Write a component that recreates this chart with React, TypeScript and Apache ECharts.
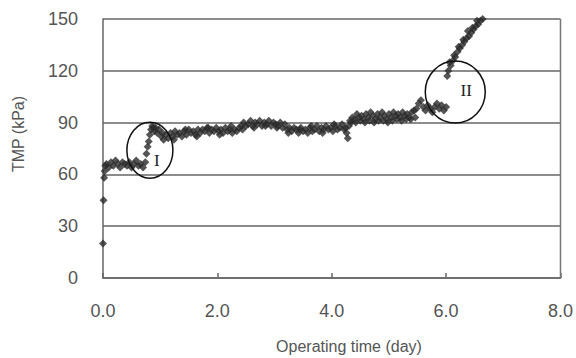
import React, { useEffect, useRef } from "react";
import * as echarts from "echarts";

const xTicks = [0, 2, 4, 6, 8];
const yTicks = [0, 30, 60, 90, 120, 150];

// operating time (day)
const times = [
  0.0, 0.01, 0.02, 0.03, 0.04,
  0.06, 0.10, 0.14, 0.18, 0.22, 0.26, 0.30, 0.34, 0.38, 0.42, 0.46, 0.50, 0.54, 0.58, 0.62, 0.66, 0.70, 0.74,
  0.76, 0.78, 0.80, 0.82, 0.84, 0.86, 0.88, 0.90, 0.92, 0.95, 0.98, 1.02, 1.06, 1.10, 1.14, 1.18, 1.22, 1.26,
  1.30, 1.34, 1.38, 1.42, 1.46, 1.50, 1.54, 1.58, 1.62, 1.66, 1.70, 1.74, 1.78, 1.82, 1.86, 1.90, 1.94, 1.98,
  2.02, 2.06, 2.10, 2.14, 2.18, 2.22, 2.26, 2.30, 2.34, 2.38, 2.42, 2.46, 2.50, 2.54, 2.58, 2.62, 2.66, 2.70,
  2.74, 2.78, 2.82, 2.86, 2.90, 2.94, 2.98, 3.02, 3.06, 3.10, 3.14, 3.18, 3.22, 3.26, 3.30, 3.34, 3.38, 3.42,
  3.46, 3.50, 3.54, 3.58, 3.62, 3.66, 3.70, 3.74, 3.78, 3.82, 3.86, 3.90, 3.94, 3.98, 4.02, 4.06, 4.10, 4.14,
  4.18, 4.22, 4.26, 4.28, 4.30, 4.32, 4.36, 4.40, 4.44, 4.48, 4.52, 4.56, 4.60, 4.64, 4.68, 4.72, 4.76, 4.80,
  4.84, 4.88, 4.92, 4.96, 5.00, 5.04, 5.08, 5.12, 5.16, 5.20, 5.24, 5.28, 5.32, 5.36, 5.40, 5.44, 5.48, 5.52,
  5.56, 5.60, 5.64, 5.68, 5.72, 5.76, 5.80, 5.84, 5.88, 5.92, 5.96, 6.00, 6.02, 6.04, 6.08, 6.12, 6.16, 6.20,
  6.24, 6.28, 6.32, 6.36, 6.40, 6.44, 6.48, 6.52, 6.56, 6.60, 6.64, 6.67,
  4.34, 4.42, 4.50, 4.58, 4.66, 4.74, 4.82, 4.90, 4.98, 5.06, 5.14, 5.22, 5.30, 5.38, 5.46,
  6.06, 6.14, 6.22, 6.30, 6.38, 6.46, 6.54, 6.62,
  1.04, 1.24, 1.44, 1.64, 1.84, 2.04, 2.24, 2.44, 2.64, 2.84, 3.04, 3.24, 3.44, 3.64, 3.84, 4.04, 4.24
];

// TMP (kPa)
const tmp = [
  20, 45, 58, 62, 65,
  66, 64, 67, 65, 68, 66, 64, 67, 66, 65, 67, 64, 66, 68, 65, 66, 64, 67,
  72, 76, 79, 83, 86, 88, 87, 85, 87, 84, 86, 82, 80, 83, 81, 84, 82, 85,
  83, 84, 82, 85, 83, 86, 84, 85, 83, 86, 84, 86, 85, 87, 84, 86, 85, 87,
  85, 86, 84, 87, 85, 86, 84, 86, 85, 87, 88, 90, 88, 89, 91, 88, 90, 89,
  91, 88, 90, 89, 91, 88, 90, 89, 88, 90, 87, 89, 86, 87, 85, 87, 86, 84,
  87, 85, 86, 84, 87, 85, 86, 88, 85, 87, 86, 88, 86, 87, 85, 88, 86, 87,
  89, 86, 84, 81, 88, 91, 93, 92, 95, 93, 94, 92, 95, 93, 96, 94, 92, 95,
  93, 96, 94, 92, 95, 93, 96, 94, 95, 93, 96, 94, 95, 93, 96, 97, 98, 101,
  103, 99, 97, 100, 98, 96, 99, 101, 98, 100, 97, 99, 117, 120, 123, 126, 128, 131,
  133, 135, 137, 139, 140, 142, 144, 146, 147, 149, 150, 151,
  90, 90, 91, 90, 91, 90, 91, 91, 90, 91, 92, 91, 92, 92, 93,
  125, 129, 134, 138, 143, 145, 149, 151,
  84, 80, 86, 82, 87, 83, 88, 86, 87, 88, 87, 84, 86, 88, 84, 89, 87
];

const points = times.map((t, i) => [t, tmp[i]]);

const labelColor = "#555";
const fontFamily = "'Liberation Sans', Arial, sans-serif";

export default function App() {
  const ref = useRef<HTMLDivElement>(null);
  useEffect(() => {
    if (!ref.current) return;
    const chart = echarts.init(ref.current, null, { renderer: "svg" });
    chart.setOption({
      animation: false,
      backgroundColor: "#fff",
      grid: { left: 103, right: 13, top: 19, bottom: 80, containLabel: false },
      xAxis: {
        type: "value",
        min: xTicks[0],
        max: xTicks[xTicks.length - 1],
        interval: 2,
        axisLine: { show: true, lineStyle: { color: "#666", width: 1.5 } },
        axisTick: { show: true, inside: true, length: 5, lineStyle: { color: "#666", width: 1.5 } },
        splitLine: { show: false },
        axisLabel: {
          margin: 24,
          color: labelColor,
          fontSize: 18,
          fontFamily,
          formatter: (v: number) => v.toFixed(1),
        },
      },
      yAxis: {
        type: "value",
        min: yTicks[0],
        max: yTicks[yTicks.length - 1],
        interval: 30,
        axisLine: { show: true, lineStyle: { color: "#666", width: 1.5 } },
        axisTick: { show: false },
        splitLine: { show: true, lineStyle: { color: "#8c8c8c", width: 2 } },
        axisLabel: { margin: 25, color: labelColor, fontSize: 18, fontFamily },
      },
      series: [
        {
          type: "scatter",
          data: points,
          symbol: "diamond",
          symbolSize: 8,
          itemStyle: { color: "#2b2b2b" },
        },
      ],
    });

    const c1 = chart.convertToPixel({ gridIndex: 0 }, [0.82, 74]) as number[];
    const c2 = chart.convertToPixel({ gridIndex: 0 }, [6.16, 107.7]) as number[];
    const rightTop = chart.convertToPixel({ gridIndex: 0 }, [8, 150]) as number[];
    const rightBottom = chart.convertToPixel({ gridIndex: 0 }, [8, 0]) as number[];

    chart.setOption({
      graphic: [
        {
          type: "line",
          shape: { x1: rightTop[0], y1: rightTop[1], x2: rightBottom[0], y2: rightBottom[1] },
          style: { stroke: "#777", lineWidth: 1.5 },
          z: 5,
        },
        {
          type: "ellipse",
          shape: { cx: c1[0], cy: c1[1], rx: 23, ry: 28 },
          style: { fill: "none", stroke: "#111", lineWidth: 1.5 },
          z: 10,
        },
        {
          type: "text",
          x: c1[0] + 7,
          y: c1[1] + 10,
          style: { text: "I", fontFamily: "'Liberation Serif', 'DejaVu Serif', serif", fontSize: 17, fill: "#222", align: "center", verticalAlign: "middle" },
          z: 10,
        },
        {
          type: "ellipse",
          shape: { cx: c2[0], cy: c2[1], rx: 30, ry: 31 },
          style: { fill: "none", stroke: "#111", lineWidth: 1.5 },
          z: 10,
        },
        {
          type: "text",
          x: c2[0] + 11,
          y: c2[1] - 2,
          style: { text: "II", fontFamily: "'Liberation Serif', 'DejaVu Serif', serif", fontSize: 17, fill: "#222", align: "center", verticalAlign: "middle" },
          z: 10,
        },
        {
          type: "text",
          x: 349,
          y: 346,
          style: { text: "Operating time (day)", fontFamily, fontSize: 16, fill: labelColor, align: "center", verticalAlign: "middle" },
        },
        {
          type: "text",
          x: 18,
          y: 134,
          rotation: Math.PI / 2,
          style: { text: "TMP (kPa)", fontFamily, fontSize: 16, fill: labelColor, align: "center", verticalAlign: "middle" },
        },
      ],
    });
    return () => chart.dispose();
  }, []);
  return <div ref={ref} style={{ width: 576, height: 358, position: "absolute", left: 0, top: 0 }} />;
}
